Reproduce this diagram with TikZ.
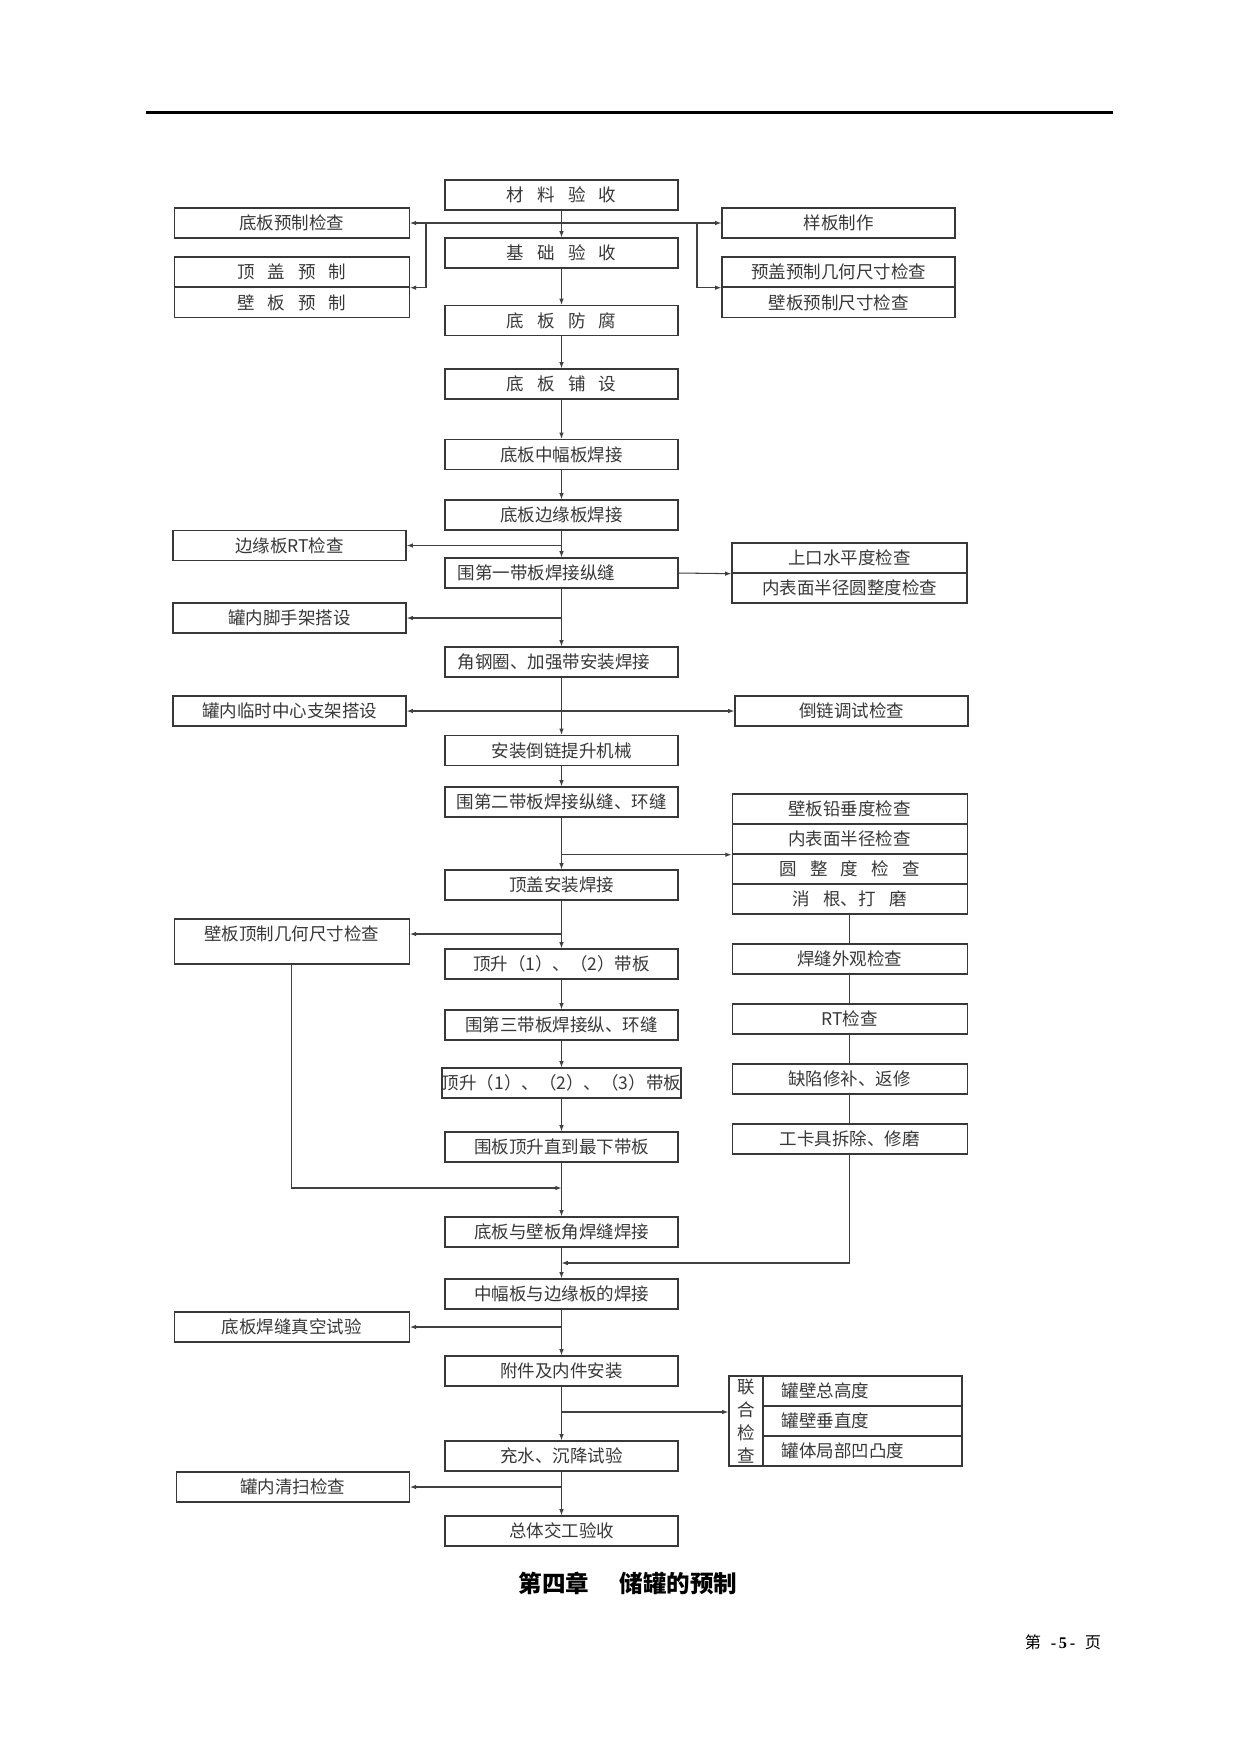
\documentclass[tikz,border=0pt]{standalone}
\usepackage{fontspec}
\newfontfamily\cjk{Noto Sans CJK SC}
\newfontfamily\tnr{Liberation Serif}
\usetikzlibrary{arrows.meta}
\newcommand\kgap{\hspace{0.75em}}
\begin{document}
\begin{tikzpicture}[x=0.48pt,y=-0.48pt,
  box/.style={draw=black!78,line width=0.65pt,inner sep=0pt,font=\cjk\fontsize{8.4}{10}\selectfont,text=black!78},
  cb/.style={box,minimum width=111.84pt,minimum height=14.4pt},
  sb/.style={box,minimum width=112.8pt,minimum height=14.4pt},
  lft/.style={align=left,text width=99.4pt,inner xsep=6.2pt},
  rowb/.style={box,minimum height=14.4pt,text width=77.3pt,align=left,inner xsep=9.1pt},
  ln/.style={draw=black!75,line width=0.5pt},
  arr/.style={ln,-{Latex[length=3pt,width=2.2pt]}},
  arrb/.style={ln,{Latex[length=3pt,width=2.2pt]}-{Latex[length=3pt,width=2.2pt]}}]
\useasboundingbox (0,0) rectangle (1241,1754);
% top rule
\draw[line width=1.35pt] (146,112.7) -- (1113,112.7);

% central column
\node[cb] (c1) at (561.5,195) {材\kgap 料\kgap 验\kgap 收};
\node[cb] (c2) at (561.5,253) {基\kgap 础\kgap 验\kgap 收};
\node[cb] (c3) at (561.5,320.5) {底\kgap 板\kgap 防\kgap 腐};
\node[cb] (c4) at (561.5,384) {底\kgap 板\kgap 铺\kgap 设};
\node[cb] (c5) at (561.5,454.5) {底板中幅板焊接};
\node[cb] (c6) at (561.5,515) {底板边缘板焊接};
\node[cb,lft] (c7) at (561.5,573) {围第一带板焊接纵缝};
\node[cb,lft] (c8) at (561.5,662) {角钢圈、加强带安装焊接};
\node[cb] (c9) at (561.5,750.5) {安装倒链提升机械};
\node[cb] (c10) at (561.5,802) {围第二带板焊接纵缝、环缝};
\node[cb] (c11) at (561.5,885) {顶盖安装焊接};
\node[cb] (c12) at (561.5,964) {顶升（1）、（2）带板};
\node[cb] (c13) at (561.5,1025) {围第三带板焊接纵、环缝};
\node[cb] (c14) at (561.5,1083) {顶升（1）、（2）、（3）带板};
\node[cb] (c15) at (561.5,1147) {围板顶升直到最下带板};
\node[cb] (c16) at (561.5,1232) {底板与壁板角焊缝焊接};
\node[cb] (c17) at (561.5,1294) {中幅板与边缘板的焊接};
\node[cb] (c18) at (561.5,1371) {附件及内件安装};
\node[cb] (c19) at (561.5,1456) {充水、沉降试验};
\node[cb] (c20) at (561.5,1531) {总体交工验收};

% left column
\node[sb] (l1) at (291.75,223) {底板预制检查};
\node[sb] (l2) at (291.75,272) {顶\kgap 盖\kgap 预\kgap 制};
\node[sb] (l3) at (291.75,302.5) {壁\kgap 板\kgap 预\kgap 制};
\node[cb] (l4) at (289.5,545.5) {边缘板RT检查};
\node[cb] (l5) at (289.5,618) {罐内脚手架搭设};
\node[cb] (l6) at (289.5,711) {罐内临时中心支架搭设};
\node[sb,minimum height=21.6pt,text height=7.4pt,text depth=8.2pt] (l7) at (291.75,941.5) {壁板顶制几何尺寸检查};
\node[sb] (l8) at (291.75,1327) {底板焊缝真空试验};
\node[cb] (l9) at (292.75,1487) {罐内清扫检查};

% right column
\node[cb] (r1) at (838.5,223) {样板制作};
\node[cb] (r2) at (838.5,272) {预盖预制几何尺寸检查};
\node[cb] (r3) at (838.5,302.5) {壁板预制尺寸检查};
\node[sb] (r4) at (849.5,558) {上口水平度检查};
\node[sb] (r5) at (849.5,588) {内表面半径圆整度检查};
\node[cb] (r6) at (851.5,711) {倒链调试检查};
\node[sb] (r7) at (849.7,809) {壁板铅垂度检查};
\node[sb] (r8) at (849.7,839) {内表面半径检查};
\node[sb] (r9) at (849.7,869) {圆\kgap 整\kgap 度\kgap 检\kgap 查};
\node[sb] (r10) at (849.7,899) {消\kgap 根、打\kgap 磨};
\node[sb] (r11) at (849.7,959) {焊缝外观检查};
\node[sb] (r12) at (849.7,1019) {RT检查};
\node[sb] (r13) at (849.7,1079) {缺陷修补、返修};
\node[sb] (r14) at (849.7,1139) {工卡具拆除、修磨};
\node[box,minimum width=16.3pt,minimum height=43.2pt,align=center,font=\cjk\fontsize{8.4}{11}\selectfont] (r15a) at (746,1421) {联\\合\\检\\查};
\node[rowb] (r15b) at (862.5,1391) {罐壁总高度};
\node[rowb] (r15c) at (862.5,1421) {罐壁垂直度};
\node[rowb] (r15d) at (862.5,1451) {罐体局部凹凸度};

% junction coordinates
\coordinate (tl) at (426,223);
\coordinate (tr) at (697,223);
\coordinate (b11) at (561.5,934);
\coordinate (j1) at (561.5,1188);
\coordinate (j2) at (561.5,1263);
\coordinate (b18) at (561.5,1412);

% main chain
\foreach \a/\b in {c1/c2,c2/c3,c3/c4,c4/c5,c5/c6,c6/c7,c7/c8,c8/c9,c9/c10,c10/c11,c11/c12,c12/c13,c13/c14,c14/c15,c15/c16,c16/c17,c17/c18,c18/c19,c19/c20}
  \draw[arr] (\a.south) -- (\b.north);

% top branches
\draw[arrb] (l1.east) -- (r1.west);
\draw[arr] (tl) |- (l2.south east);
\draw[arr] (tr) |- (r2.south west);

% side branches
\draw[arr] (c6.south |- l4.east) -- (l4.east);
\draw[arr] (c7.east) -- (r4.south west);
\draw[arr] (c7.south |- l5.east) -- (l5.east);
\draw[arrb] (l6.east) -- (r6.west);
\draw[arr] (c10.south |- r8.south west) -- (r8.south west);
\draw[arr] (b11) -- (b11 -| l7.east);
\draw[arr] (l7.south) |- (j1);
\draw[arr] (c17.south |- l8.east) -- (l8.east);
\draw[arr] (b18) -- (b18 -| r15a.west);
\draw[arr] (c19.south |- l9.east) -- (l9.east);

% right inspection chain
\foreach \a/\b in {r10/r11,r11/r12,r12/r13,r13/r14}
  \draw[ln] (\a.south) -- (\b.north);
\draw[arr] (r14.south) |- (j2);

% title and page number
\node (title) at (628,1583) {\cjk\bfseries\fontsize{11.3}{13}\selectfont 第四章\hspace{1.3em}储罐的预制};
\node (pg) at (1063,1642) {\cjk\fontsize{7.8}{9}\selectfont 第\hspace{0.6em}{\tnr\bfseries -\,5\,-}\hspace{0.6em}页};
\end{tikzpicture}
\end{document}
